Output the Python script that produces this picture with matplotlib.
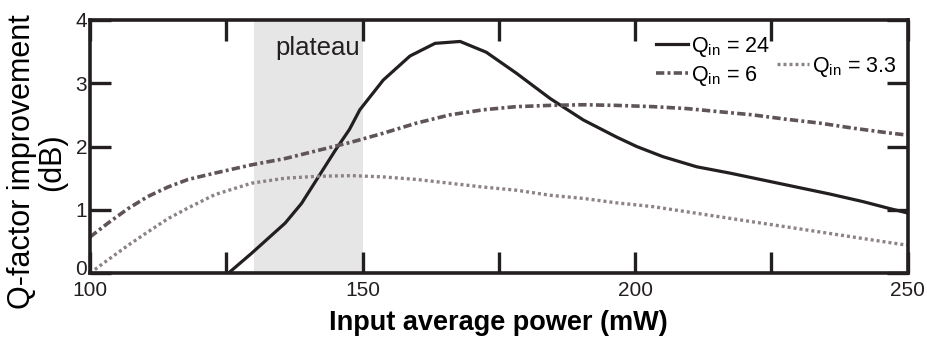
import numpy as np
import matplotlib.pyplot as plt
from matplotlib.transforms import ScaledTranslation

# curve samples
x_24 = [125.4, 129.6, 135.8, 138.8, 141.9, 145.0, 147.6, 149.5, 153.8, 158.7, 163.3, 167.9,
        172.7, 178.2, 184.4, 190.5, 196.6, 200.3, 205.1, 211.3, 217.4, 223.5, 229.6,
        235.7, 241.8, 246.7, 250]
q_24 = [0.0, 0.31, 0.79, 1.10, 1.52, 1.94, 2.27, 2.58, 3.05, 3.43, 3.63, 3.66,
        3.49, 3.16, 2.76, 2.42, 2.15, 2.00, 1.84, 1.68, 1.58, 1.47, 1.36,
        1.25, 1.13, 1.02, 0.95]

x_6 = [100, 103.3, 107.0, 110.6, 114.3, 118.0, 122.9, 129.6, 135.8, 141.9, 148.0, 153.8,
       159.9, 166.0, 172.1, 178.2, 184.4, 190.5, 196.6, 203.3, 209.4, 215.5, 221.6,
       227.8, 233.9, 240.0, 246.1, 250]
q_6 = [0.57, 0.79, 1.02, 1.21, 1.36, 1.48, 1.58, 1.71, 1.81, 1.94, 2.07, 2.21,
       2.37, 2.50, 2.58, 2.63, 2.65, 2.66, 2.65, 2.63, 2.60, 2.55, 2.50,
       2.43, 2.37, 2.29, 2.22, 2.18]

x_33 = [100, 103.3, 107.0, 110.6, 114.3, 118.0, 122.9, 129.6, 135.8, 141.9, 148.0, 153.8,
        159.9, 166.0, 172.1, 178.2, 184.4, 190.5, 196.6, 203.3, 209.4, 215.5, 221.6,
        227.8, 233.9, 240.0, 246.1, 250]
q_33 = [0.0, 0.21, 0.44, 0.65, 0.86, 1.03, 1.24, 1.42, 1.50, 1.53, 1.54, 1.52,
        1.48, 1.42, 1.36, 1.31, 1.23, 1.18, 1.11, 1.05, 0.97, 0.89, 0.81,
        0.73, 0.65, 0.57, 0.49, 0.44]

plateau = (130, 150)
xticks = [100, 125, 150, 175, 200, 225, 250]
xlabels = ['100', '', '150', '', '200', '', '250']
yticks = [0, 1, 2, 3, 4]

c24 = '#231f20'
c6 = '#5f5457'
c33 = '#8d8386'

plt.rcParams['font.family'] = ['Liberation Sans', 'DejaVu Sans']

fig = plt.figure(figsize=(9.28, 3.38), dpi=100)
ax = fig.add_axes([0.097, 0.192, 0.881, 0.749])

ax.axvspan(plateau[0], plateau[1], color='#e6e6e6', lw=0, zorder=0)
ax.text(141.7, 3.55, 'plateau', ha='center', va='center', fontsize=18.5, color=c24)

l24, = ax.plot(x_24, q_24, color=c24, lw=2.3, solid_joinstyle='round')
l6, = ax.plot(x_6, q_6, color=c6, lw=2.6, dashes=(2.3, 0.9, 0.8, 0.9))
l33, = ax.plot(x_33, q_33, color=c33, lw=2.4, dashes=(0.9, 0.9))

ax.set_xlim(100, 250)
ax.set_ylim(0, 4)
ax.set_xticks(xticks)
ax.set_xticklabels(xlabels)
ax.set_yticks(yticks)
ax.tick_params(direction='in', length=15, width=2.4, top=True, right=True,
               labelsize=15, pad=2, colors=c24, labelcolor=c24)
ax.tick_params(axis='x', pad=6)
for s in ax.spines.values():
    s.set_linewidth(2.6)
    s.set_color(c24)

# lift the "0" a little so it sits just above "100"
zero = ax.get_yticklabels()[0]
zero.set_transform(zero.get_transform() + ScaledTranslation(0, 4 / 72, fig.dpi_scale_trans))

ax.set_xlabel('Input average power (mW)', fontsize=19.5, fontweight='bold', labelpad=7)
ax.set_ylabel('Q-factor improvement\n(dB)', fontsize=22, linespacing=1.0)
ax.yaxis.set_label_coords(-0.028, 0.44)

lab_kw = dict(frameon=False, handlelength=1.5, handletextpad=0.15,
              labelspacing=0.25, borderpad=0, prop={'size': 15.5})
leg1 = ax.legend([l24, l6], ['Q$_{\\mathregular{in}}$ = 24', 'Q$_{\\mathregular{in}}$ = 6'],
                 loc='upper left', bbox_to_anchor=(0.679, 0.985), **lab_kw)
ax.add_artist(leg1)
ax.legend([l33], ['Q$_{\\mathregular{in}}$ = 3.3'], loc='upper left',
          bbox_to_anchor=(0.827, 0.905), **lab_kw)

fig.savefig('out.png', dpi=100)
